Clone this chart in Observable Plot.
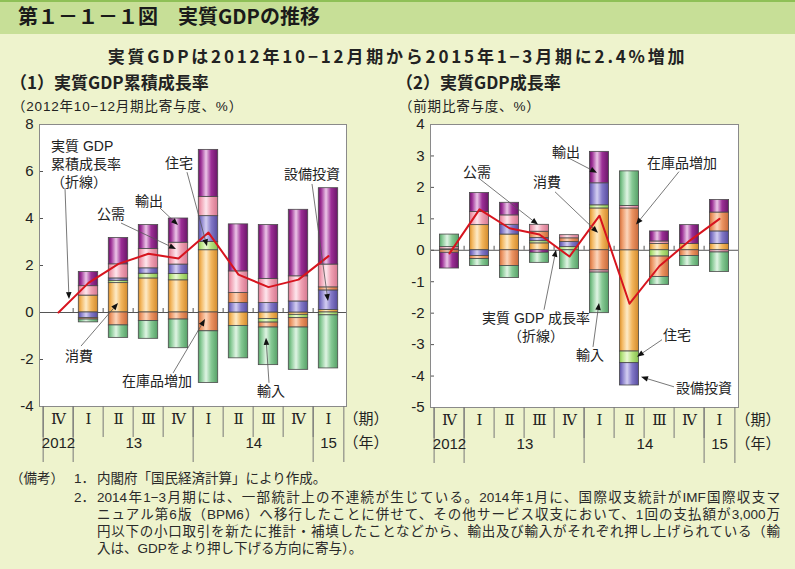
<!DOCTYPE html>
<html lang="ja"><head><meta charset="utf-8">
<script src="https://cdn.jsdelivr.net/npm/d3@7"></script>
<script src="https://cdn.jsdelivr.net/npm/@observablehq/plot@0.6"></script>
<style>
html,body{margin:0;padding:0}
body{width:795px;height:569px;background:#eef3cd;position:relative;overflow:hidden;font-family:"Noto Sans CJK JP","Noto Sans",sans-serif;color:#222}
.abs{position:absolute;white-space:nowrap;line-height:1}
#bar{left:0;top:0;width:795px;height:34px;background:#c7df97;border-top:2px solid #8fc057;box-sizing:border-box}
#title{left:18px;top:6px;font-size:20px;font-weight:bold;color:#1a1a1a}
#subtitle{left:0;width:795px;top:47px;text-align:center;font-size:17px;font-weight:bold;letter-spacing:2.8px}
.ptitle{top:73px;font-size:17px;font-weight:bold}
.unit{top:100px;font-size:13.5px;letter-spacing:0.8px;font-family:"Liberation Sans","Noto Sans CJK JP",sans-serif}
#p1{left:0;top:114px}
#p2{left:390px;top:114px}
.note{position:absolute;height:17px;line-height:17px;font-size:13.5px;color:#2a2a2a;white-space:nowrap;overflow:visible;
  font-family:"Liberation Sans","Noto Sans CJK JP",sans-serif}
.just{width:683px;text-align:justify;text-align-last:justify}
</style></head><body>
<div id="bar" class="abs"></div>
<div id="title" class="abs">第１－１－１図　実質GDPの推移</div>
<div id="subtitle" class="abs">実質GDPは2012年10−12月期から2015年1−3月期に2.4%増加</div>
<div class="abs ptitle" style="left:10px">（1）実質GDP累積成長率</div>
<div class="abs ptitle" style="left:396px">（2）実質GDP成長率</div>
<div class="abs unit" style="left:12px">（2012年10−12月期比寄与度、%）</div>
<div class="abs unit" style="left:399px">（前期比寄与度、%）</div>
<div id="p1" class="abs"></div>
<div id="p2" class="abs"></div>
<div id="notes"></div>
<svg width="0" height="0" style="position:absolute"><defs id="grads"></defs></svg>
<script>
// ---------- data ----------
const quarters = ["2012-Q4","2013-Q1","2013-Q2","2013-Q3","2013-Q4","2014-Q1","2014-Q2","2014-Q3","2014-Q4","2015-Q1"];
const quarterLabels = ["Ⅳ","Ⅰ","Ⅱ","Ⅲ","Ⅳ","Ⅰ","Ⅱ","Ⅲ","Ⅳ","Ⅰ"];
const yearLabels = ["2012","13","13","13","13","14","14","14","14","15"];
const seriesNames = ["消費","住宅","設備投資","在庫品増加","公需","輸出","輸入"];

// (1) cumulative contributions since 2012 Q4 (%pt)
const cumConsumption = [0, 0.72, 1.25, 1.45, 1.37, 2.65, -0.57, -0.28, -0.10, 0.11];
const cumHousing     = [0, 0.00, 0.10, 0.20, 0.27, 0.35, 0.00, -0.15, -0.14, -0.12];
const cumCapex       = [0, -0.24, 0.10, 0.23, 0.40, 1.10, 0.40, 0.40, 0.47, 0.83];
const cumInventory   = [0, -0.06, -0.55, -0.36, -0.30, -0.80, 0.43, -0.21, -0.40, 0.13];
const cumPublic      = [0, 0.40, 0.60, 0.82, 0.93, 0.82, 0.92, 1.03, 1.07, 0.97];
const cumExports     = [0, 0.60, 1.12, 1.02, 1.03, 2.00, 2.00, 2.29, 2.83, 3.25];
const cumImports     = [0, -0.12, -0.53, -0.76, -1.22, -2.20, -1.38, -1.60, -1.80, -2.26];
const cumGDP         = [0, 1.26, 2.07, 2.50, 2.30, 3.40, 1.61, 1.08, 1.40, 2.40];

// (2) quarter-on-quarter contributions (%pt)
const qoqConsumption = [0.03, 0.80, 0.50, 0.22, 0.00, 1.33, -3.22, 0.20, 0.20, 0.20];
const qoqHousing     = [0.00, 0.00, 0.00, 0.07, 0.10, 0.10, -0.37, -0.20, 0.00, 0.00];
const qoqCapex       = [0.00, -0.18, 0.31, 0.10, 0.16, 0.70, -0.71, 0.00, 0.00, 0.40];
const qoqInventory   = [-0.08, -0.10, -0.50, 0.20, 0.12, -0.64, 1.33, -0.65, -0.18, 0.60];
const qoqPublic      = [0.07, 0.42, 0.30, 0.22, 0.10, -0.07, 0.08, 0.08, 0.00, -0.07];
const qoqExports     = [-0.50, 0.60, 0.40, -0.08, 0.00, 1.00, 0.00, 0.32, 0.60, 0.40];
const qoqImports     = [0.40, -0.22, -0.38, -0.32, -0.60, -1.29, 1.10, -0.25, -0.32, -0.62];
const qoqGDP         = [-0.1, 1.3, 0.7, 0.5, -0.2, 1.1, -1.7, -0.5, 0.3, 1.0];

const ticks1 = [-4, -2, 0, 2, 4, 6, 8];
const ticks2 = [-5, -4, -3, -2, -1, 0, 1, 2, 3, 4];

// annotations: tip anchored at (quarter, value); offsets in px
const notes1 = [
  {lines:["実質 GDP","累積成長率","（折線）"], q:"2012-Q4", v:0.55, tipDx:11, tail:[-4,-111], text:[-18,-153], anchor:"start"},
  {lines:["公需"], q:"2013-Q4", v:2.68, tipDx:-2, tail:[-55,-26], text:[-65,-35]},
  {lines:["輸出"], q:"2013-Q4", v:3.70, tipDx:0, tail:[-18,-17], text:[-29,-24]},
  {lines:["住宅"], q:"2014-Q1", v:2.80, tipDx:-1, tail:[-20,-74], text:[-28,-83]},
  {lines:["設備投資"], q:"2015-Q1", v:0.47, tipDx:0, tail:[-16,-117], text:[-16,-127]},
  {lines:["消費"], q:"2013-Q2", v:0.38, tipDx:0, tail:[-37,43], text:[-39,53]},
  {lines:["在庫品増加"], q:"2014-Q1", v:-0.30, tipDx:-3, tail:[-32,54], text:[-48,62]},
  {lines:["輸入"], q:"2014-Q3", v:-1.10, tipDx:-2, tail:[3,45], text:[5,53]}
];
const notes2 = [
  {lines:["輸出"], q:"2014-Q1", v:2.45, tipDx:-2, tail:[-29,-15], text:[-31,-21]},
  {lines:["公需"], q:"2013-Q3", v:0.80, tipDx:-1, tail:[-60,-47], text:[-61,-53]},
  {lines:["消費"], q:"2014-Q1", v:0.54, tipDx:-1, tail:[-43,-41], text:[-51,-51]},
  {lines:["在庫品増加"], q:"2014-Q2", v:0.80, tipDx:7, tail:[43,-53], text:[46,-62]},
  {lines:["実質 GDP 成長率","（折線）"], q:"2013-Q4", v:0.0, tipDx:-13, tail:[-12,60], text:[-20,68]},
  {lines:["輸入"], q:"2014-Q1", v:-1.69, tipDx:0, tail:[-6,44], text:[-9,52]},
  {lines:["住宅"], q:"2014-Q2", v:-3.40, tipDx:8, tail:[25,-17], text:[40,-22]},
  {lines:["設備投資"], q:"2014-Q2", v:-4.04, tipDx:12, tail:[33,10], text:[63,11]}
];

// ---------- styles ----------
const seriesColors = [
  ["#d38a2a","#f3b65d","#fdebc8"], // 消費
  ["#86bf4e","#b5e27e","#ecf9d6"], // 住宅
  ["#564b9e","#8379c8","#d4cff2"], // 設備投資
  ["#c9693a","#ec9563","#fbd6bd"], // 在庫品増加
  ["#d5768f","#f0a2b4","#fde7ed"], // 公需
  ["#6a1668","#9c2f96","#ecc6e8"], // 輸出
  ["#55a066","#86c994","#e0f4e4"]  // 輸入
];
const defs = d3.select("#grads");
seriesColors.forEach(([dark, base, light], i) => {
  const g = defs.append("linearGradient").attr("id", "g" + i).attr("x1", "0").attr("x2", "1").attr("y1", "0").attr("y2", "0");
  [[0, dark], [0.14, base], [0.4, light], [0.66, base], [1, dark]].forEach(([o, c]) =>
    g.append("stop").attr("offset", o).attr("stop-color", c));
});

const CJK = "'Noto Sans CJK JP', sans-serif";
const LABEL = "'Liberation Sans', 'Noto Sans CJK JP', sans-serif";

function annotations(list) {
  return (index, scales) => {
    const x = scales.x, y = scales.y;
    const bw = x.bandwidth ? x.bandwidth() : 0;
    const g = d3.create("svg:g");
    for (const a of list) {
      const tx = x(a.q) + bw / 2 + a.tipDx, ty = y(a.v);
      const sx = tx + a.tail[0], sy = ty + a.tail[1];
      const ang = Math.atan2(ty - sy, tx - sx);
      const L = 7, Wd = 2.8;
      const bx = tx - L * Math.cos(ang), by = ty - L * Math.sin(ang);
      g.append("line").attr("x1", sx).attr("y1", sy).attr("x2", bx).attr("y2", by)
        .attr("stroke", "#555").attr("stroke-width", 0.8);
      g.append("polygon").attr("points", [
        [tx, ty],
        [bx + Wd * Math.sin(ang), by - Wd * Math.cos(ang)],
        [bx - Wd * Math.sin(ang), by + Wd * Math.cos(ang)]
      ].map(p => p.join(",")).join(" ")).attr("fill", "#111");
      a.lines.forEach((ln, k) => g.append("text").attr("font-family", LABEL).attr("font-size", 14).attr("fill", "#222")
        .attr("text-anchor", a.anchor || "middle")
        .attr("x", tx + a.text[0]).attr("y", ty + a.text[1] + k * 18).attr("dy", "0.35em").text(ln));
    }
    return g.node();
  };
}

function panel({values, line, domain, ticks, fw, fh, ml, mr, mt, mb, notes, inset}) {
  const step = fw / quarters.length;
  const table = [];
  seriesNames.forEach((s, si) => values[si].forEach((v, qi) => {
    if (v !== 0) table.push({q: quarters[qi], s, v, fill: `url(#g${si})`});
  }));
  const gdp = quarters.map((q, i) => ({q, v: line[i]}));
  const yearStarts = quarters.filter((q, i) => i === 0 || yearLabels[i] !== yearLabels[i - 1]);
  const groups = d3.groups(quarters.map((q, i) => ({q, i, y: yearLabels[i]})), d => d.y)
    .map(([y, arr]) => ({y, n: arr.length, q: arr[Math.floor((arr.length - 1) / 2)].q}));
  return Plot.plot({
    width: ml + fw + mr, height: mt + fh + mb,
    marginLeft: ml, marginRight: mr, marginTop: mt, marginBottom: mb,
    x: {type: "band", domain: quarters, padding: 0, axis: null},
    y: {domain, axis: null},
    color: {type: "identity"},
    style: {background: "transparent", fontFamily: "'Liberation Sans', Arial, sans-serif", fontSize: "15px", color: "#222", overflow: "visible"},
    marks: [
      Plot.frame({fill: "white", stroke: "none"}),
      Plot.ruleY([0], {stroke: "#555", strokeWidth: 1}),
      Plot.ruleX(quarters.slice(1), {x: d => d, dx: -step / 2, y1: 0, y2: 0, insetTop: -4, stroke: "#555"}),
      Plot.ruleY(ticks, {y: d => d, insetRight: fw - 4, stroke: "#555"}),
      Plot.barY(table, {x: "q", y: "v", fill: "fill", stroke: "#4a4a4a", strokeWidth: 0.8, insetLeft: inset, insetRight: inset}),
      Plot.line(gdp, {x: "q", y: "v", stroke: "#d7141e", strokeWidth: 2}),
      Plot.frame({stroke: "#8a8a8a"}),
      Plot.text(ticks, {y: d => d, text: d => String(d), frameAnchor: "left", textAnchor: "end", dx: -6, fontSize: 15}),
      // axis table below the frame
      Plot.ruleX(quarters, {x: d => d, dx: -step / 2, insetTop: fh, insetBottom: -31, stroke: "#777"}),
      Plot.ruleX(yearStarts, {x: d => d, dx: -step / 2, insetTop: fh, insetBottom: -56, stroke: "#777"}),
      Plot.ruleX(quarters.slice(-1), {x: d => d, dx: step / 2, insetTop: fh, insetBottom: -56, stroke: "#777"}),
      Plot.text(quarters, {x: d => d, text: (d, i) => quarterLabels[i], frameAnchor: "bottom", dy: 17, fontFamily: "'DejaVu Serif', 'Liberation Serif', serif", fontSize: 15}),
      Plot.text(groups.filter(g => g.n % 2 === 1), {x: "q", text: "y", frameAnchor: "bottom", dy: 41, fontSize: 15,
        fontFamily: "'Liberation Sans Narrow', 'Liberation Sans', sans-serif"}),
      Plot.text(groups.filter(g => g.n % 2 === 0), {x: "q", text: "y", frameAnchor: "bottom", dx: step / 2, dy: 41, fontSize: 15}),
      Plot.text(["（期）"], {text: d => d, frameAnchor: "bottom-right", textAnchor: "start", dx: -3, dy: 17, fontFamily: CJK, fontSize: 15}),
      Plot.text(["（年）"], {text: d => d, frameAnchor: "bottom-right", textAnchor: "start", dx: -3, dy: 41, fontFamily: CJK, fontSize: 15}),
      annotations(notes)
    ]
  });
}

document.getElementById("p1").append(panel({
  values: [cumConsumption, cumHousing, cumCapex, cumInventory, cumPublic, cumExports, cumImports],
  line: cumGDP, domain: [-4, 8], ticks: ticks1,
  fw: 307, fh: 282, ml: 39, mr: 49, mt: 10, mb: 60, notes: notes1, inset: 5.3
}));
document.getElementById("p2").append(panel({
  values: [qoqConsumption, qoqHousing, qoqCapex, qoqInventory, qoqPublic, qoqExports, qoqImports],
  line: qoqGDP, domain: [-5, 4], ticks: ticks2,
  fw: 308, fh: 283, ml: 40, mr: 57, mt: 10, mb: 59, notes: notes2, inset: 5.4
}));

// ---------- footnotes ----------
const noteLines = [
  {x: 10, y: 478, t: "（備考）"},
  {x: 74, y: 478, t: "1．"},
  {x: 97, y: 478, t: "内閣府「国民経済計算」により作成。"},
  {x: 74, y: 497, t: "2．"},
  {x: 97, y: 497, t: "2014年1−3月期には、一部統計上の不連続が生じている。2014年1月に、国際収支統計がIMF国際収支マ", j: true},
  {x: 97, y: 514, t: "ニュアル第6版（BPM6）へ移行したことに併せて、その他サービス収支において、1回の支払額が3,000万", j: true},
  {x: 97, y: 531, t: "円以下の小口取引を新たに推計・補填したことなどから、輸出及び輸入がそれぞれ押し上げられている（輸", j: true},
  {x: 97, y: 548, t: "入は、GDPをより押し下げる方向に寄与）。"}
];
const nroot = d3.select("#notes");
noteLines.forEach(l => {
  nroot.append("div").attr("class", "note" + (l.j ? " just" : ""))
    .style("left", l.x + "px").style("top", (l.y - 8.5) + "px").text(l.t);
});
</script>
</body></html>
